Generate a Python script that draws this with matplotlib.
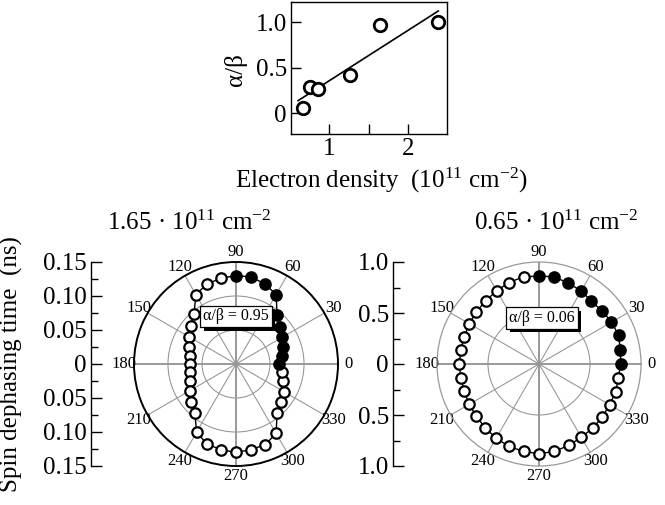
import numpy as np
import matplotlib
matplotlib.use("Agg")
import matplotlib.pyplot as plt
import matplotlib.patheffects as pe

plt.rcParams['font.family'] = ['Liberation Serif', 'DejaVu Serif']
plt.rcParams['mathtext.fontset'] = 'custom'
plt.rcParams['mathtext.rm'] = 'Liberation Serif'
plt.rcParams['mathtext.it'] = 'Liberation Serif:italic'

# Inset: alpha/beta vs electron density
density = [0.67, 0.76, 0.86, 1.26, 1.65, 2.38]
ratio = [0.06, 0.29, 0.26, 0.42, 0.97, 1.00]
density_ticks = [1, 1.5, 2]
density_labels = ["1", "", "2"]
ratio_ticks = [0, 0.5, 1.0]
ratio_labels = ["0", "0.5", "1.0"]

# Polar panels: spin dephasing time vs in-plane angle (every 10 deg)
angles = list(range(0, 360, 10))
n_measured = 10  # 0..90 deg are measured (filled), the rest open
tau_high = [0.063, 0.068, 0.073, 0.078, 0.085, 0.094, 0.118, 0.125, 0.130, 0.130,
            0.128, 0.125, 0.118, 0.096, 0.087, 0.079, 0.073, 0.068, 0.068, 0.069,
            0.072, 0.078, 0.086, 0.094, 0.116, 0.125, 0.128, 0.130, 0.128, 0.126,
            0.118, 0.094, 0.087, 0.081, 0.073, 0.068]
tau_low = [0.80, 0.81, 0.83, 0.82, 0.81, 0.80, 0.83, 0.84, 0.87, 0.86,
           0.87, 0.85, 0.83, 0.81, 0.80, 0.79, 0.78, 0.78, 0.78, 0.78,
           0.78, 0.79, 0.80, 0.82, 0.84, 0.86, 0.87, 0.88, 0.87, 0.85,
           0.83, 0.82, 0.81, 0.80, 0.80, 0.79]

theta_ticks = list(range(0, 360, 30))
theta_labels = ["0", "30", "60", "90", "120", "150", "180", "210", "240", "270", "300", "330"]

high_ticks = [-0.15, -0.10, -0.05, 0, 0.05, 0.10, 0.15]
high_labels = ["0.15", "0.10", "0.05", "0", "0.05", "0.10", "0.15"]
high_minor = [-0.125, -0.075, -0.025, 0.025, 0.075, 0.125]
low_ticks = [-1.0, -0.5, 0, 0.5, 1.0]
low_labels = ["1.0", "0.5", "0", "0.5", "1.0"]
low_minor = [-0.75, -0.25, 0.25, 0.75]

W, H = 665, 505
fig = plt.figure(figsize=(W / 100, H / 100), dpi=100)


def rect(x0, y0, x1, y1):
    # pixel box (top-left origin) -> figure fraction
    return [x0 / W, (H - y1) / H, (x1 - x0) / W, (y1 - y0) / H]


# ---- inset ----
ax = fig.add_axes(rect(291, 2, 447, 134))
ax.plot(density, ratio, 'o', ms=9, mfc='white', mec='black', mew=2.0, zorder=3)
k, b = np.polyfit(density, ratio, 1)
xfit = np.array([density[0] - 0.06, density[-1]])
ax.plot(xfit, k * xfit + b, color='black', lw=1.2, zorder=2)
ax.set_xlim(0.52, 2.49)
ax.set_ylim(-0.23, 1.22)
ax.set_xticks(density_ticks)
ax.set_xticklabels(density_labels, fontsize=18)
ax.set_yticks(ratio_ticks)
ax.set_yticklabels(ratio_labels, fontsize=18)
ax.tick_params(direction='in', length=7, width=1, pad=3)
for s in ax.spines.values():
    s.set_linewidth(1.0)
fig.text(235 / W, 1 - 70 / H, "α/β", rotation=90, fontsize=18, ha='center', va='center')
fig.text(381 / W, 1 - 188 / H, "Electron density  (10$^{11}$ cm$^{-2}$)",
         fontsize=18, ha='center', va='baseline')


def polar_panel(cx, tau, rmax, rgrid, edge, side_x, ticks, labels, minor, title, title_x, box, box_xy):
    pax = fig.add_axes(rect(cx - 102, 262, cx + 102, 466), projection='polar')
    th = np.deg2rad(angles)
    pax.plot(np.append(th, th[0]), np.append(tau, tau[0]), color='black', lw=1.0, zorder=2)
    pax.plot(th[n_measured:], tau[n_measured:], 'o', ms=7.5, mfc='white', mec='black',
             mew=1.6, zorder=3, clip_on=False)
    pax.plot(th[:n_measured], tau[:n_measured], 'o', ms=7.5, mfc='black', mec='black',
             mew=1.6, zorder=3, clip_on=False)
    pax.set_rlim(0, rmax)
    pax.set_rgrids(rgrid, labels=[""] * len(rgrid))
    pax.set_thetagrids(theta_ticks, theta_labels, fontsize=12)
    pax.tick_params(axis='x', pad=-3)
    pax.grid(True, color='#999999', lw=0.8)
    for i, gl in enumerate(pax.xaxis.get_gridlines()):
        if i % 3 == 0:
            gl.set_color('#888888')
            gl.set_linewidth(1.2)
    if edge == 'black':
        pax.spines['polar'].set_color('black')
        pax.spines['polar'].set_linewidth(1.4)
    else:
        pax.spines['polar'].set_color('#999999')
        pax.spines['polar'].set_linewidth(0.9)
    t = pax.text(box_xy[0], box_xy[1], box, transform=pax.transAxes, fontsize=11.5,
                 ha='center', va='center', zorder=5,
                 bbox=dict(boxstyle='square,pad=0.18', fc='white', ec='black', lw=0.9))
    t.get_bbox_patch().set_path_effects([pe.withSimplePatchShadow(offset=(2.5, -2.5),
                                         shadow_rgbFace='black', alpha=1.0)])

    sax = fig.add_axes(rect(side_x, 262, side_x + 10, 466))
    sax.patch.set_visible(False)
    for s in ['top', 'right', 'bottom']:
        sax.spines[s].set_visible(False)
    sax.spines['left'].set_linewidth(1.0)
    sax.set_xticks([])
    sax.set_ylim(-rmax, rmax)
    sax.set_yticks(ticks)
    sax.set_yticklabels(labels, fontsize=18)
    sax.set_yticks(minor, minor=True)
    sax.tick_params(axis='y', which='major', direction='in', length=8, width=1, pad=3)
    sax.tick_params(axis='y', which='minor', direction='in', length=5, width=1)

    fig.text(title_x / W, 1 - 230 / H, title, fontsize=18, ha='center', va='baseline')


polar_panel(236, tau_high, 0.15, [0.05, 0.10], 'black', 91, high_ticks, high_labels, high_minor,
            "1.65 · 10$^{11}$ cm$^{-2}$", 189, "α/β = 0.95", (0.5, 0.733))
polar_panel(539, tau_low, 1.0, [0.5], 'gray', 393, low_ticks, low_labels, low_minor,
            "0.65 · 10$^{11}$ cm$^{-2}$", 556, "α/β = 0.06", (0.515, 0.725))

fig.text(11 / W, 1 - 364 / H, "Spin dephasing time  (ns)", rotation=90, fontsize=18,
         ha='center', va='center')

fig.savefig("out.png", dpi=100)
